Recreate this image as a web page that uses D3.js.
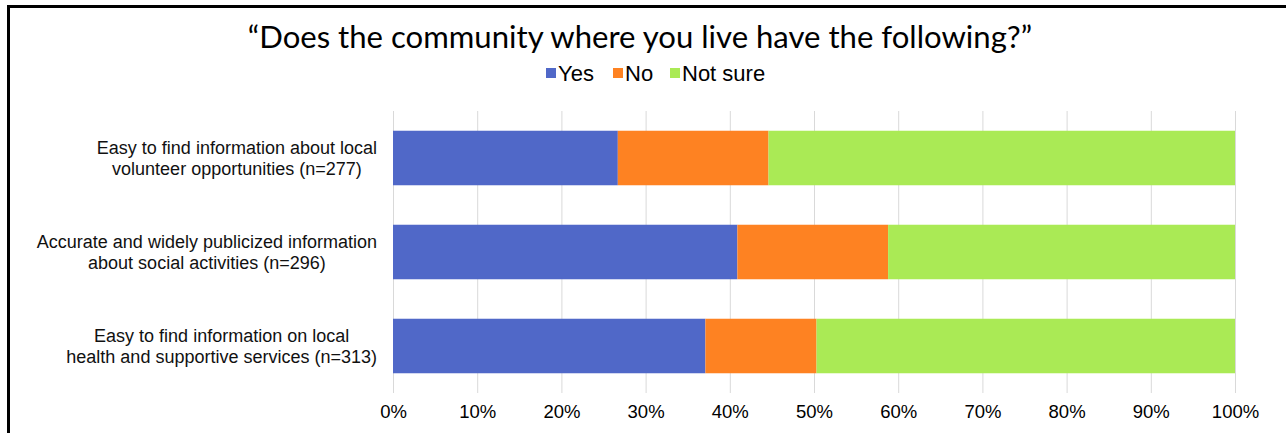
<!DOCTYPE html>
<html>
<head>
<meta charset="utf-8">
<script src="https://cdn.jsdelivr.net/npm/d3@7"></script>
<style>
  html, body { margin: 0; padding: 0; background: #fff; }
  svg { display: block; }
</style>
</head>
<body>
<svg id="chart" width="1286" height="433"></svg>
<script>
// Survey items (each label split into its two display lines)
const categories = [
  ["Easy to find information about local", "volunteer opportunities (n=277)"],
  ["Accurate and widely publicized information", "about social activities (n=296)"],
  ["Easy to find information on local", "health and supportive services (n=313)"]
];
const seriesNames = ["Yes", "No", "Not sure"];
// Share of responses per item, in percent
const yesValues     = [26.7, 40.9, 37.1];
const noValues      = [17.9, 17.9, 13.2];
const notSureValues = [55.4, 41.2, 49.7];
const tickValues = [0, 10, 20, 30, 40, 50, 60, 70, 80, 90, 100];
const colors = ["#5068c8", "#fe8222", "#aaea55"];

const rows = categories.map((c, i) => ({
  label: c, Yes: yesValues[i], No: noValues[i], "Not sure": notSureValues[i]
}));

const svg = d3.select("#chart");

// Frame lines at top and left
svg.append("line").attr("x1", 8.5).attr("x2", 1286).attr("y1", 6.5).attr("y2", 6.5)
  .attr("stroke", "#000").attr("stroke-width", 3);
svg.append("line").attr("x1", 8.5).attr("x2", 8.5).attr("y1", 5).attr("y2", 433)
  .attr("stroke", "#000").attr("stroke-width", 3);

// Title
svg.append("text")
  .attr("x", 640).attr("y", 48)
  .attr("text-anchor", "middle")
  .attr("font-family", "Lato, 'Open Sans', sans-serif")
  .attr("font-size", 31.1)
  .attr("fill", "#000")
  .text("\u201CDoes the community where you live have the following?\u201D");

const x = d3.scaleLinear().domain([0, 100]).range([393, 1235]);
const y = d3.scaleBand().domain(d3.range(categories.length)).range([111, 393]).paddingInner(0.42).paddingOuter(0.21);

// Gridlines
svg.append("g")
  .selectAll("line").data(tickValues).join("line")
  .attr("x1", d => x(d) + 0.5).attr("x2", d => x(d) + 0.5)
  .attr("y1", 111).attr("y2", 393)
  .attr("stroke", "#d9d9d9").attr("stroke-width", 1);

// Stacked bars
const stacked = d3.stack().keys(seriesNames)(rows);
svg.append("g").selectAll("g").data(stacked).join("g")
  .attr("fill", (d, i) => colors[i])
  .selectAll("rect").data(d => d.map((v, i) => ({ v, i }))).join("rect")
  .attr("x", d => x(d.v[0]))
  .attr("width", d => x(d.v[1]) - x(d.v[0]))
  .attr("y", d => y(d.i))
  .attr("height", y.bandwidth());

// Bottom axis tick labels
const axis = svg.append("g").attr("transform", "translate(0,393)")
  .call(d3.axisBottom(x).tickValues(tickValues).tickFormat(d => d + "%").tickSize(0).tickPadding(12));
axis.select(".domain").remove();
axis.selectAll("text")
  .attr("font-family", "'Liberation Sans', Arial, sans-serif")
  .attr("font-size", 18.5)
  .attr("fill", "#000");

// Category labels: two lines centred as a block, block right-aligned
const labelRight = 377;
const labelG = svg.append("g")
  .attr("font-family", "'Liberation Sans', Arial, sans-serif")
  .attr("font-size", 18)
  .attr("fill", "#111");
rows.forEach((r, i) => {
  const cy = y(i) + y.bandwidth() / 2;
  const texts = r.label.map((line, j) => labelG.append("text")
    .attr("y", cy + (j === 0 ? -4.5 : 16.5))
    .attr("text-anchor", "middle")
    .text(line));
  const maxW = d3.max(texts, t => t.node().getComputedTextLength());
  texts.forEach(t => t.attr("x", labelRight - maxW / 2));
});

// Legend
const legendItems = [
  { name: "Yes", sx: 546 },
  { name: "No", sx: 613 },
  { name: "Not sure", sx: 670 }
];
const lg = svg.append("g");
legendItems.forEach((d, i) => {
  lg.append("rect").attr("x", d.sx).attr("y", 68).attr("width", 10).attr("height", 10).attr("fill", colors[i]);
  lg.append("text").attr("x", d.sx + 12).attr("y", 81)
    .attr("font-family", "'Liberation Sans', Arial, sans-serif")
    .attr("font-size", 22).attr("fill", "#000")
    .text(d.name);
});
</script>
</body>
</html>
